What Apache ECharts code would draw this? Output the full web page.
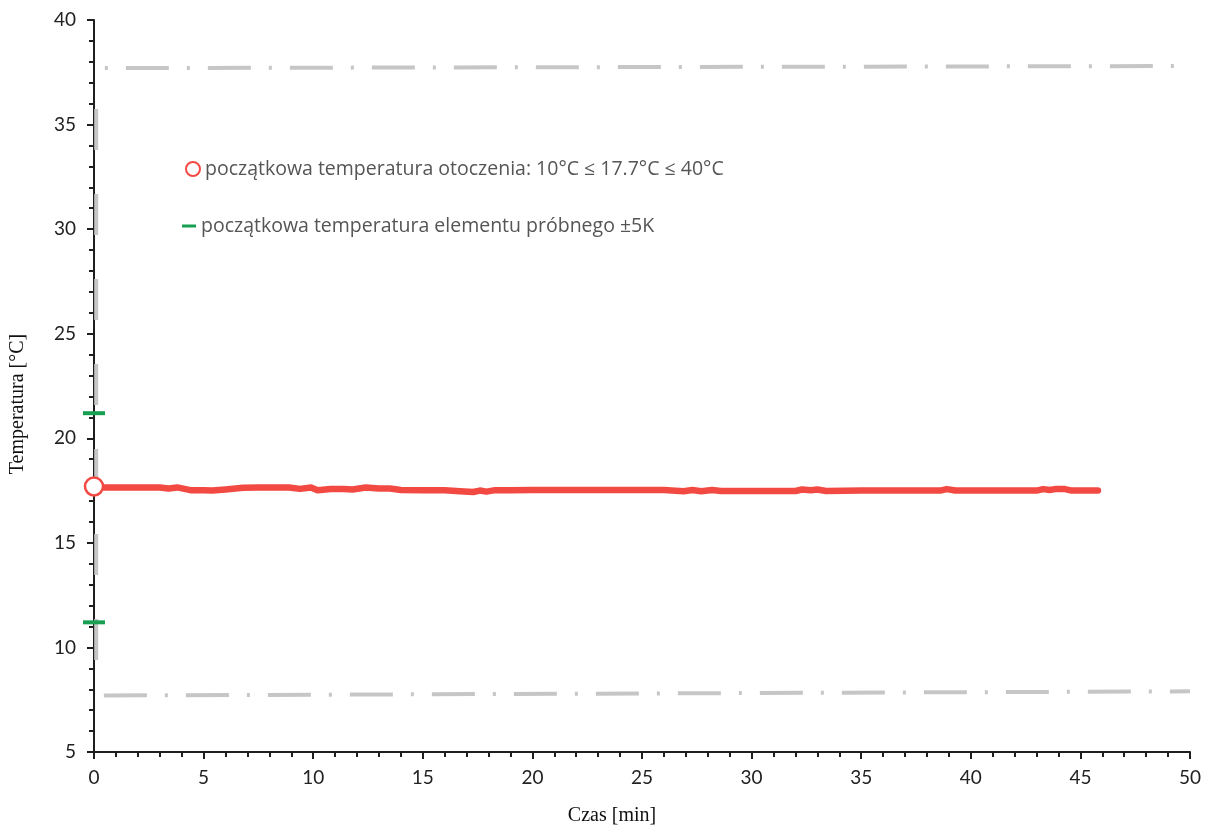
<!DOCTYPE html>
<html>
<head>
<meta charset="utf-8">
<script src="https://cdn.jsdelivr.net/npm/echarts@6/dist/echarts.min.js"></script>
<style>
  html, body { margin: 0; padding: 0; background: #fff; }
  #chart { width: 1208px; height: 831px; }
</style>
</head>
<body>
<div id="chart"></div>
<script>
/* -------------------------------------------------------------------------- */
/*                  Temperatura otoczenia w czasie badania                    */
/* -------------------------------------------------------------------------- */
const ambientLabel = 'początkowa temperatura otoczenia: 10°C ≤ 17.7°C ≤ 40°C';
const specimenLabel = 'początkowa temperatura elementu próbnego ±5K';

const timeMin = [0, 1, 2, 3, 3.4, 3.8, 4.4, 5, 5.4, 6, 6.8, 7.5, 8.9, 9.4, 9.9, 10.2,
  10.8, 11.4, 11.8, 12.4, 13, 13.5, 14, 15, 16, 16.7, 17.3, 17.6, 17.9, 18.3, 19, 20,
  22, 24, 26, 26.9, 27.3, 27.7, 28.2, 28.6, 30, 32, 32.3, 32.7, 33, 33.4, 35, 37,
  38.6, 38.9, 39.3, 41, 43, 43.3, 43.6, 43.9, 44.3, 44.6, 45, 45.8];
const measuredTemp = [17.65, 17.65, 17.65, 17.65, 17.6, 17.65, 17.52, 17.52, 17.5, 17.55,
  17.63, 17.65, 17.65, 17.58, 17.65, 17.52, 17.58, 17.58, 17.55, 17.65, 17.6, 17.6, 17.53,
  17.52, 17.52, 17.47, 17.43, 17.5, 17.45, 17.52, 17.52, 17.53, 17.53, 17.53, 17.53, 17.47,
  17.53, 17.47, 17.53, 17.48, 17.48, 17.48, 17.55, 17.52, 17.55, 17.48, 17.5, 17.5, 17.5,
  17.57, 17.5, 17.5, 17.5, 17.57, 17.53, 17.58, 17.57, 17.5, 17.5, 17.5];

const ambientStart = [[0, 17.7]];
const specimenBand = [[0, 21.2], [0, 11.2]];
const upperLimit = [[0.45, 37.7], [50, 37.8]];
const lowerLimit = [[0.45, 7.7], [50, 7.9]];
const limitSpan = [[0.1, 9.4], [0.1, 37.2]];

const xTicks = { min: 0, max: 50, interval: 5 };
const yTicks = { min: 5, max: 40, interval: 5 };

const red = '#f24a43';
const green = '#17a052';
const grey = '#c6c6c6';
const axisColor = '#1e1e1e';
const dashDot = [43, 18, 3, 18];

const chart = echarts.init(document.getElementById('chart'));

const axisCommon = {
  axisLine: { show: true, onZero: false, lineStyle: { color: axisColor, width: 2 } },
  axisTick: { show: true, inside: false, length: 7, lineStyle: { color: axisColor, width: 2 } },
  minorTick: { show: true, splitNumber: 5, length: 5, lineStyle: { color: axisColor, width: 2 } },
  splitLine: { show: false },
  axisLabel: { color: '#222', fontFamily: 'Lato', fontSize: 19 },
  nameTextStyle: { color: '#111', fontFamily: 'Liberation Serif', fontSize: 20 }
};

const legendText = { color: '#555', fontFamily: 'Open Sans', fontSize: 19.5 };

chart.setOption({
  animation: false,
  backgroundColor: '#fff',
  grid: { left: 94, right: 18, top: 20, bottom: 77, containLabel: false },
  legend: [
    {
      left: 180,
      top: 154,
      selectedMode: false,
      itemWidth: 14,
      itemHeight: 14,
      data: [{
        name: ambientLabel,
        icon: 'circle',
        itemStyle: { color: '#fff', borderColor: red, borderWidth: 2 }
      }],
      textStyle: legendText
    },
    {
      left: 177,
      top: 211,
      selectedMode: false,
      itemWidth: 14,
      itemHeight: 3,
      data: [{ name: specimenLabel, icon: 'rect', itemStyle: { color: green } }],
      textStyle: legendText
    }
  ],
  xAxis: {
    type: 'value',
    ...xTicks,
    name: 'Czas [min]',
    nameLocation: 'middle',
    nameGap: 54,
    ...axisCommon,
    axisLabel: { ...axisCommon.axisLabel, margin: 16 },
    nameTextStyle: { ...axisCommon.nameTextStyle, padding: [0, 60, 0, 0] }
  },
  yAxis: {
    type: 'value',
    ...yTicks,
    name: 'Temperatura [°C]',
    nameLocation: 'middle',
    nameGap: 66,
    ...axisCommon,
    axisLabel: { ...axisCommon.axisLabel, margin: 18 },
    nameTextStyle: { ...axisCommon.nameTextStyle, padding: [0, 36, 0, 0] }
  },
  series: [
    {
      name: 'limitSpan',
      type: 'line',
      data: limitSpan,
      symbol: 'none',
      silent: true,
      z: 1,
      lineStyle: { color: grey, width: 4, type: [41, 44] }
    },
    {
      name: 'upperLimit',
      type: 'line',
      data: upperLimit,
      symbol: 'none',
      silent: true,
      z: 1,
      lineStyle: { color: grey, width: 4, type: dashDot, dashOffset: 60 }
    },
    {
      name: 'lowerLimit',
      type: 'line',
      data: lowerLimit,
      symbol: 'none',
      silent: true,
      z: 1,
      lineStyle: { color: grey, width: 4, type: dashDot }
    },
    {
      name: 'measured',
      type: 'line',
      data: timeMin.map((t, i) => [t, measuredTemp[i]]),
      symbol: 'none',
      z: 3,
      lineStyle: { color: red, width: 6.5, cap: 'round', join: 'round' }
    },
    {
      name: specimenLabel,
      type: 'scatter',
      data: specimenBand,
      symbol: 'rect',
      symbolSize: [22, 4],
      z: 4,
      itemStyle: { color: green, opacity: 1 }
    },
    {
      name: ambientLabel,
      type: 'scatter',
      data: ambientStart,
      symbol: 'circle',
      symbolSize: 18,
      z: 5,
      itemStyle: { color: '#fff', borderColor: red, borderWidth: 2.5, opacity: 1 }
    }
  ]
});
</script>
</body>
</html>
